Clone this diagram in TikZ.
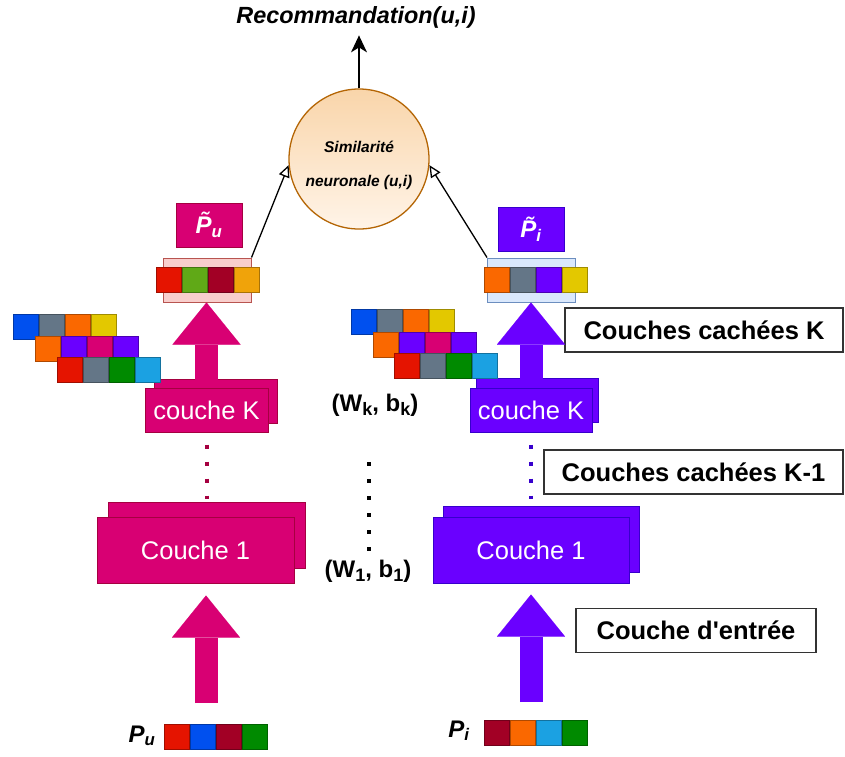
\documentclass[tikz,border=0pt]{standalone}
\usepackage{fontspec}
\setmainfont{Liberation Sans}
\usetikzlibrary{arrows.meta, positioning, calc, shadows}

\definecolor{umag}{HTML}{D80073}
\definecolor{umagd}{HTML}{A50040}
\definecolor{ivio}{HTML}{6A00FF}
\definecolor{ivid}{HTML}{3700CC}
\definecolor{mred}{HTML}{E51400}
\definecolor{mblue}{HTML}{0050EF}
\definecolor{mdred}{HTML}{A20025}
\definecolor{mgreen}{HTML}{008A00}
\definecolor{mlgreen}{HTML}{60A917}
\definecolor{morange}{HTML}{FA6800}
\definecolor{mamber}{HTML}{F0A30A}
\definecolor{myellow}{HTML}{E3C800}
\definecolor{mgray}{HTML}{647687}
\definecolor{mcyan}{HTML}{1BA1E2}
\definecolor{pinkf}{HTML}{F8CECC}
\definecolor{pinkd}{HTML}{B85450}
\definecolor{bluef}{HTML}{DAE8FC}
\definecolor{blued}{HTML}{6C8EBF}
\definecolor{circt}{HTML}{F9D5AA}
\definecolor{circb}{HTML}{FFF4E8}
\definecolor{circd}{HTML}{B46504}

% one row of coloured squares: name, left x, top y, colours
\newcommand{\cellrow}[4]{%
  \foreach \c [count=\k from 0] in {#4}
    \node[sq, fill=\c, draw=\c!70!black] (#1-\k) at ({#2+13+26*\k},{#3+12.5}) {};%
}
% large subscript for the weight labels
\newcommand{\wsub}[1]{\raisebox{-4pt}{\fontsize{18}{20}\selectfont #1}}

\begin{document}
\begin{tikzpicture}[
    x=1pt, y=-1pt,
    sq/.style={rectangle, minimum width=25pt, minimum height=25pt, inner sep=0pt, line width=1pt},
    layerbox/.style={rectangle, minimum height=44pt, inner sep=0pt, line width=1pt, text=white, font=\fontsize{25.5}{28}\selectfont},
    sidenote/.style={rectangle, draw=black!80, line width=1.5pt, fill=white, minimum height=44pt, inner sep=0pt, font=\bfseries\fontsize{25.5}{28}\selectfont},
    tagbox/.style={rectangle, minimum width=66pt, minimum height=44pt, inner sep=0pt, line width=1pt, text=white, font=\bfseries\itshape\fontsize{24}{26}\selectfont},
    vecbox/.style={rectangle, minimum width=88pt, minimum height=44pt, inner sep=0pt, line width=1pt},
    wlabel/.style={anchor=base, font=\bfseries\fontsize{24}{26}\selectfont},
    bigup/.style={draw=#1, line width=23pt, -{Triangle[length=42pt, width=68pt, line width=0.01pt, fill=#1]}},
    link/.style={draw=black, line width=1.3pt, -{Triangle[open, length=12pt, width=11pt]}},
    dotline/.style={line width=4pt, dash pattern=on 4pt off 13pt}
]
\useasboundingbox (0,0) rectangle (845,756);

% Output
\node[font=\bfseries\itshape\fontsize{23.4}{26}\selectfont, anchor=base] (reco) at (356,23) {Recommandation(u,i)};
\node[circle, minimum size=140pt, inner sep=0pt, draw=circd, line width=1.3pt, top color=circt, bottom color=circb] (sim) at (359,159) {};
\node[align=center, font=\bfseries\itshape\fontsize{15.5}{34}\selectfont] (sim_txt) at (359,165) {Similarité\\neuronale (u,i)};

% Latent vectors
\node[tagbox, fill=umag, draw=umagd] (pu_tag) at (209,225) {\~{P}\textsubscript{u}};
\node[tagbox, fill=ivio, draw=ivid] (pi_tag) at (531,229) {\~{P}\textsubscript{i}};
\node[vecbox, fill=pinkf, draw=pinkd] (pu_box) at (207,280) {};
\node[vecbox, fill=bluef, draw=blued] (pi_box) at (531.5,280) {};
\cellrow{puv}{156}{267}{mred,mlgreen,mdred,mamber}
\cellrow{piv}{484}{267}{morange,mgray,ivio,myellow}

% Hidden layers
\node[layerbox, minimum width=123pt, fill=umag, draw=umagd,
      copy shadow={shadow xshift=9pt, shadow yshift=9pt, fill=umag, draw=umagd, line width=1pt}] (ukK) at (206.5,410) {couche K};
\node[layerbox, minimum width=122pt, fill=ivio, draw=ivid,
      copy shadow={shadow xshift=6pt, shadow yshift=10pt, fill=ivio, draw=ivid, line width=1pt}] (ikK) at (531,410) {couche K};
\node[layerbox, minimum width=197pt, minimum height=66pt, fill=umag, draw=umagd,
      copy shadow={shadow xshift=11pt, shadow yshift=15pt, fill=umag, draw=umagd, line width=1pt}] (uc1) at (195.5,550) {Couche 1};
\node[layerbox, minimum width=196pt, minimum height=66pt, fill=ivio, draw=ivid,
      copy shadow={shadow xshift=10pt, shadow yshift=11pt, fill=ivio, draw=ivid, line width=1pt}] (ic1) at (531,550) {Couche 1};

% Weights
\cellrow{uw1}{13}{314}{mblue,mgray,morange,myellow}
\cellrow{uw2}{35}{336}{morange,ivio,umag,ivio}
\cellrow{uw3}{57}{357}{mred,mgray,mgreen,mcyan}
\cellrow{iw1}{351}{309}{mblue,mgray,morange,myellow}
\cellrow{iw2}{373}{332}{morange,ivio,umag,ivio}
\cellrow{iw3}{394}{353}{mred,mgray,mgreen,mcyan}
\node[wlabel] (wk) at (375,411) {(W\wsub{k}, b\wsub{k})};
\node[wlabel] (w1) at (368,577) {(W\wsub{1}, b\wsub{1})};
\coordinate (dtop) at (369,462);
\coordinate (dbot) at (369,556);

% Inputs
\node[font=\bfseries\itshape\fontsize{24}{28}\selectfont, anchor=base] (pu_txt) at (142,742) {P\textsubscript{u}};
\node[font=\bfseries\itshape\fontsize{24}{28}\selectfont, anchor=base] (pi_txt) at (459,737) {P\textsubscript{i}};
\cellrow{puin}{164}{724}{mred,mblue,mdred,mgreen}
\cellrow{piin}{484}{720}{mdred,morange,mcyan,mgreen}
\coordinate (ubase) at (206,703);
\coordinate (ibase) at (531,702);

% Side notes
\node[sidenote, minimum width=278pt] (noteK) at (704,330) {Couches cachées K};
\node[sidenote, minimum width=299pt] (noteK1) at (693.5,472) {Couches cachées K-1};
\node[sidenote, minimum width=240pt] (noteIn) at (696,630.5) {Couche d\textquotesingle entrée};

% Arrows
\draw[line width=1.5pt, -{Stealth[length=17pt, width=16pt, inset=5pt]}, shorten >=4pt] (sim.north) -- (sim.north |- reco.south);
\draw[link] (pu_box.north east) -- (sim.185);
\draw[link] (pi_box.north west) -- (sim.-5);
\draw[bigup=umag] (ukK.north) -- (ukK.north |- pu_box.south);
\draw[bigup=ivio] (ikK.north) -- (ikK.north |- pi_box.south);
\draw[bigup=umag, shorten >=12pt] (ubase) -- (ubase |- uc1.south);
\draw[bigup=ivio, shorten >=11pt] (ibase) -- (ibase |- ic1.south);
\draw[dotline, umagd, shorten <=12pt, shorten >=18pt] (ukK.south) -- (ukK.south |- uc1.north);
\draw[dotline, ivid, shorten <=12pt, shorten >=18pt] (ikK.south) -- (ikK.south |- ic1.north);
\draw[dotline, black] (dtop) -- (dbot);

\end{tikzpicture}
\end{document}
